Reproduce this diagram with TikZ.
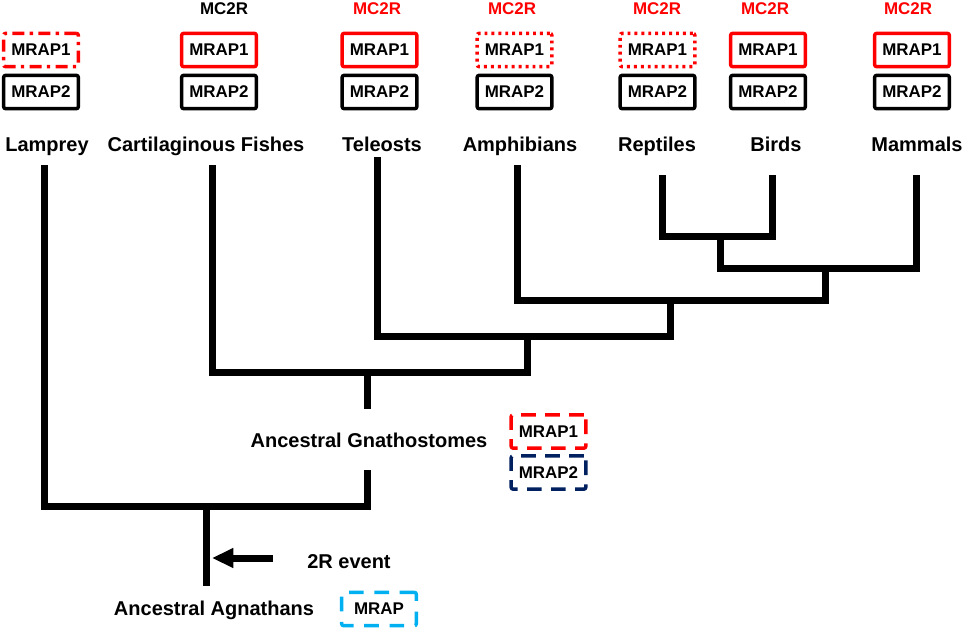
\documentclass[tikz,border=0pt]{standalone}
\usepackage{fontspec}
\setmainfont{Liberation Sans}
\usetikzlibrary{arrows.meta}
\definecolor{mred}{HTML}{FF0000}
\definecolor{mnavy}{HTML}{002060}
\definecolor{mcyan}{HTML}{00B0F0}
\begin{document}
\begin{tikzpicture}[x=0.75pt,y=-0.75pt,
  tree/.style={line width=5.25pt,line join=miter,line cap=rect},
  gbox/.style={draw,line width=2.6pt,rounded corners=1.5pt,minimum width=56pt,minimum height=25pt,inner sep=0pt,font=\fontsize{12.7}{14}\selectfont\bfseries},
  solidred/.style={gbox,draw=mred},
  solidblack/.style={gbox,draw=black},
  dotred/.style={gbox,draw=mred,dash pattern=on 2.2pt off 3pt},
  dashdotred/.style={gbox,draw=mred,dash pattern=on 9pt off 4pt on 2.5pt off 4pt},
  dashred/.style={gbox,draw=mred,dash pattern=on 11pt off 7pt},
  dashnavy/.style={gbox,draw=mnavy,dash pattern=on 11pt off 7pt},
  dashcyan/.style={gbox,draw=mcyan,dash pattern=on 11pt off 8pt},
  mcr/.style={font=\fontsize{12.7}{14}\selectfont\bfseries,inner sep=0pt,anchor=base},
  taxon/.style={font=\fontsize{15}{17}\selectfont\bfseries,inner sep=0pt,anchor=base}]
\useasboundingbox (0,0) rectangle (965,629);

% MC2R labels
\node[mcr] (mc2) at (224,14) {MC2R};
\node[mcr,text=mred] (mc3) at (377,14) {MC2R};
\node[mcr,text=mred] (mc4) at (512,14) {MC2R};
\node[mcr,text=mred] (mc5) at (657,14) {MC2R};
\node[mcr,text=mred] (mc6) at (765,14) {MC2R};
\node[mcr,text=mred] (mc7) at (908,14) {MC2R};

% MRAP boxes
\node[dashdotred] (a1) at (41,50) {MRAP1};
\node[solidblack] (a2) at (41,92) {MRAP2};
\node[solidred] (b1) at (219,50) {MRAP1};
\node[solidblack] (b2) at (219,92) {MRAP2};
\node[solidred] (c1) at (379.5,50) {MRAP1};
\node[solidblack] (c2) at (379.5,92) {MRAP2};
\node[dotred] (d1) at (514.5,50) {MRAP1};
\node[solidblack] (d2) at (514.5,92) {MRAP2};
\node[dotred] (e1) at (657.5,50) {MRAP1};
\node[solidblack] (e2) at (657.5,92) {MRAP2};
\node[solidred] (f1) at (768,50) {MRAP1};
\node[solidblack] (f2) at (768,92) {MRAP2};
\node[solidred] (g1) at (912,50) {MRAP1};
\node[solidblack] (g2) at (912,92) {MRAP2};

% taxa
\node[taxon] (lam) at (47,151) {Lamprey};
\node[taxon] (cart) at (206,151) {Cartilaginous Fishes};
\node[taxon] (tel) at (382,151) {Teleosts};
\node[taxon] (amph) at (520,151) {Amphibians};
\node[taxon] (rep) at (657,151) {Reptiles};
\node[taxon] (bird) at (776,151) {Birds};
\node[taxon] (mam) at (917,151) {Mammals};

% tree coordinates
\coordinate (lamT) at (44,168);
\coordinate (cartT) at (212,168);
\coordinate (telT) at (377,160);
\coordinate (amphT) at (517,168);
\coordinate (repT) at (662,178);
\coordinate (birdT) at (772,178);
\coordinate (mamT) at (916,178);
\coordinate (n1) at (720,236);
\coordinate (n2) at (720,268);
\coordinate (n3) at (825,268);
\coordinate (n4) at (825,300);
\coordinate (n5) at (670,300);
\coordinate (n6) at (670,336);
\coordinate (n7) at (527,336);
\coordinate (n8) at (527,372);
\coordinate (n9) at (367,372);
\coordinate (gnT) at (367,405);
\coordinate (gnB) at (367,473);
\coordinate (n10) at (367,506);
\coordinate (n11) at (206,506);
\coordinate (agB) at (206,582);

\draw[tree] (repT) |- (n1) -| (birdT);
\draw[tree] (n1) -- (n2) -| (mamT);
\draw[tree] (n3) -- (n4) -| (amphT);
\draw[tree] (n5) -- (n6) -| (telT);
\draw[tree] (n7) -- (n8) -| (cartT);
\draw[tree] (n9) -- (gnT);
\draw[tree] (gnB) -- (n10) -| (lamT);
\draw[tree] (n11) -- (agB);

% ancestral gnathostomes
\node[taxon] (gn) at (369,447) {Ancestral Gnathostomes};
\node[dashred] (h1) at (548.5,431.5) {MRAP1};
\node[dashnavy] (h2) at (548.5,472.5) {MRAP2};

% 2R event
\node[taxon] (ev) at (349,568) {2R event};
\coordinate (arrS) at (273,558);
\coordinate (arrE) at (212,558);
\draw[line width=5.25pt,-{Triangle[length=16pt,width=14pt]}] (arrS) -- (arrE);

% ancestral agnathans
\node[taxon] (ag) at (214,615) {Ancestral Agnathans};
\node[dashcyan] (k1) at (379,609) {MRAP};
\end{tikzpicture}
\end{document}
